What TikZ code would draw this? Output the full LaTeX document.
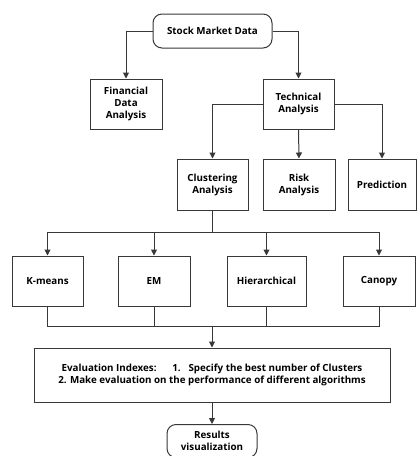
\documentclass[tikz,border=0pt]{standalone}
\usepackage{fontspec}
\setmainfont{Open Sans}
\usetikzlibrary{arrows.meta}
\begin{document}
\begin{tikzpicture}[x=1pt,y=-1pt,
  box/.style={draw=black!78, line width=1pt, fill=white, align=center, inner sep=0pt, font=\fontsize{9.8}{12}\selectfont\bfseries},
  rbox/.style={box, rounded corners=9pt},
  conn/.style={draw=black!78, line width=1pt},
  arr/.style={conn, -{Triangle[length=6pt,width=6pt]}}]
\useasboundingbox (0,0) rectangle (417,456);
\node[rbox, minimum width=119pt, minimum height=34pt] (smd) at (212.5,31) {Stock Market Data};
\node[box, minimum width=72pt, minimum height=50pt] (fda) at (126,104) {Financial\\Data\\Analysis};
\node[box, minimum width=71pt, minimum height=50pt] (ta) at (298.5,104) {Technical\\Analysis};
\node[box, minimum width=71pt, minimum height=51pt] (ca) at (212.5,184.5) {Clustering\\Analysis};
\node[box, minimum width=72pt, minimum height=51pt] (ra) at (299,184.5) {Risk\\Analysis};
\node[box, minimum width=68pt, minimum height=51pt] (pr) at (382,184.5) {Prediction};
\node[box, minimum width=71pt, minimum height=50pt] (km) at (47.5,281) {K-means};
\node[box, minimum width=72pt, minimum height=50pt] (em) at (154,281) {EM};
\node[box, minimum width=79pt, minimum height=50pt] (hi) at (266.5,281) {Hierarchical};
\node[box, minimum width=356pt, minimum height=54pt] (ev) at (212,375) {Evaluation Indexes:\hspace{1.6em}1.\hspace{0.8em}Specify the best number of Clusters\\2. Make evaluation on the performance of different algorithms};
\node[box, minimum width=72pt, minimum height=50pt] (cn) at (379,281) {Canopy};
\node[rbox, minimum width=90pt, minimum height=33pt] (rv) at (212,441) {Results\\visualization};
\coordinate (j1) at (212.5,232);
\coordinate (j2) at (212,326);
\draw[arr] (smd.west) -| (fda.north);
\draw[arr] (smd.east) -| (ta.north);
\draw[arr] (ta.west) -| (ca.north);
\draw[arr] (ta.south) -- (ra.north);
\draw[arr] (ta.east) -| (pr.north);
\draw[conn] (ca.south) -- (j1);
\draw[arr] (j1) -| (km.north);
\draw[arr] (j1) -| (em.north);
\draw[arr] (j1) -| (hi.north);
\draw[arr] (j1) -| (cn.north);
\draw[conn] (km.south) |- (j2);
\draw[conn] (em.south) |- (j2);
\draw[conn] (hi.south) |- (j2);
\draw[conn] (cn.south) |- (j2);
\draw[arr] (j2) -- (ev.north);
\draw[arr] (ev.south) -- (rv.north);
\end{tikzpicture}
\end{document}
